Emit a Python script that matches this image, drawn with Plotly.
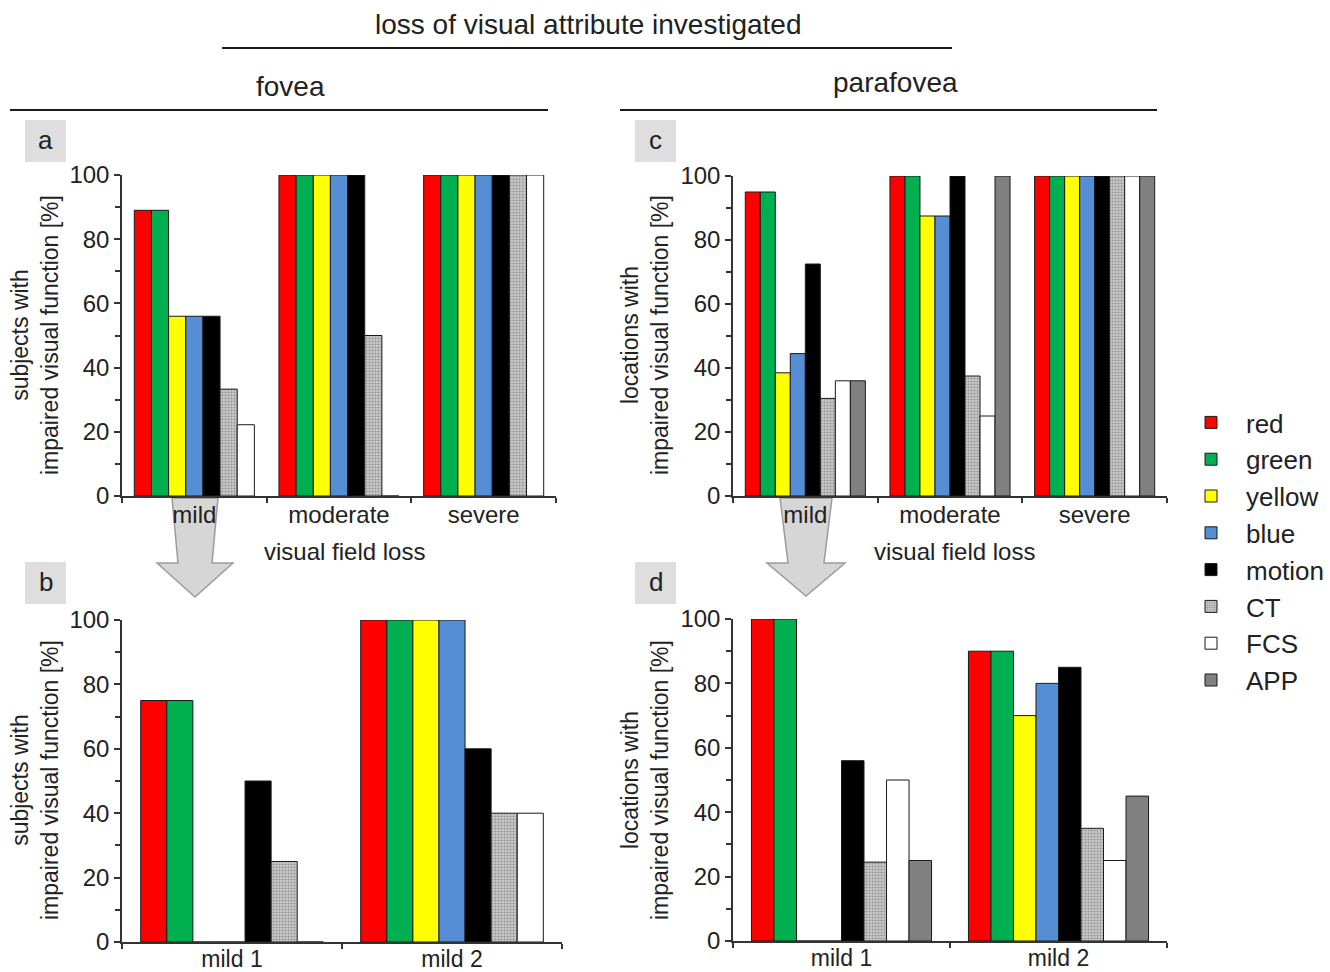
import plotly.graph_objects as go

# ---------------------------------------------------------------- data
SERIES = ["red", "green", "yellow", "blue", "motion", "CT", "FCS", "APP"]

SEVERITY = ["mild", "moderate", "severe"]
MILD_SPLIT = ["mild 1", "mild 2"]

# (a) fovea, subjects with impaired function per severity class
fovea_severity = {
    "red":    [89, 100, 100],
    "green":  [89, 100, 100],
    "yellow": [56, 100, 100],
    "blue":   [56, 100, 100],
    "motion": [56, 100, 100],
    "CT":     [33.3, 50, 100],
    "FCS":    [22.2, 0, 100],
}

# (b) fovea, mild class split in two
fovea_mild = {
    "red":    [75, 100],
    "green":  [75, 100],
    "yellow": [0, 100],
    "blue":   [0, 100],
    "motion": [50, 60],
    "CT":     [25, 40],
    "FCS":    [0, 40],
}

# (c) parafovea, locations with impaired function per severity class
parafovea_severity = {
    "red":    [95, 100, 100],
    "green":  [95, 100, 100],
    "yellow": [38.5, 87.5, 100],
    "blue":   [44.5, 87.5, 100],
    "motion": [72.5, 100, 100],
    "CT":     [30.5, 37.5, 100],
    "FCS":    [36, 25, 100],
    "APP":    [36, 100, 100],
}

# (d) parafovea, mild class split in two
parafovea_mild = {
    "red":    [100, 90],
    "green":  [100, 90],
    "yellow": [0, 70],
    "blue":   [0, 80],
    "motion": [56, 85],
    "CT":     [24.5, 35],
    "FCS":    [50, 25],
    "APP":    [25, 45],
}

# ---------------------------------------------------------------- style
FILL = {
    "red": "#ff0000",
    "green": "#00b050",
    "yellow": "#ffff00",
    "blue": "#558ed5",
    "motion": "#000000",
    "CT": "#c0c0c0",
    "FCS": "#ffffff",
    "APP": "#808080",
}
FONT = "Liberation Sans, Arial, sans-serif"
INK = "#222222"
AXIS = "#333333"

W, H = 1330, 972


def px(x):
    return x / W


def py(y):
    return 1 - y / H


fig = go.Figure()


def add_panel(values, cats, xa, ya, legend):
    for name in SERIES:
        if name not in values:
            continue
        marker = dict(color=FILL[name], line=dict(color="#1a1a1a", width=1))
        if name == "CT":
            # speckled grey texture
            marker["pattern"] = dict(shape=".", fgcolor="#5e5e5e", bgcolor="#c9c9c9",
                                     size=3, solidity=0.4)
        fig.add_trace(go.Bar(
            x=cats, y=values[name], name=name, marker=marker,
            xaxis=xa, yaxis=ya, showlegend=legend,
        ))


add_panel(fovea_severity, SEVERITY, "x", "y", False)
add_panel(parafovea_severity, SEVERITY, "x2", "y2", True)
add_panel(fovea_mild, MILD_SPLIT, "x3", "y3", False)
add_panel(parafovea_mild, MILD_SPLIT, "x4", "y4", False)


def xaxis_cfg(x0, x1, anchor, cats, size):
    return dict(
        domain=[px(x0), px(x1)], anchor=anchor, type="category",
        categoryorder="array", categoryarray=cats,
        tickson="boundaries", ticks="outside", ticklen=5, tickwidth=1.5,
        tickcolor=AXIS, showline=True, linecolor=AXIS, linewidth=1.5,
        showgrid=False, zeroline=False, automargin=False,
        ticklabelstandoff=-4,
        tickfont=dict(family=FONT, size=size, color=INK),
    )


def yaxis_cfg(y0, y1, anchor):
    return dict(
        domain=[py(y0), py(y1)], anchor=anchor, range=[0, 100],
        tickmode="linear", tick0=0, dtick=20,
        ticks="outside", ticklen=6, tickwidth=1.5, tickcolor=AXIS,
        minor=dict(dtick=10, ticks="outside", ticklen=5, tickwidth=1.5, tickcolor=AXIS),
        showline=True, linecolor=AXIS, linewidth=1.5,
        showgrid=False, zeroline=False, automargin=False,
        tickfont=dict(family=FONT, size=24, color=INK),
    )


shapes = []
annotations = []


def line(x0, y0, x1, y1, w=2):
    shapes.append(dict(type="line", xref="paper", yref="paper",
                       x0=px(x0), y0=py(y0), x1=px(x1), y1=py(y1),
                       line=dict(color="#1a1a1a", width=w)))


def text(x, y, s, size=20, angle=0):
    annotations.append(dict(xref="paper", yref="paper", x=px(x), y=py(y),
                            xanchor="center", yanchor="middle", text=s,
                            showarrow=False, textangle=angle,
                            font=dict(family=FONT, size=size, color=INK)))


def tag(x0, y0, x1, y1, s):
    shapes.append(dict(type="rect", xref="paper", yref="paper",
                       x0=px(x0), y0=py(y1), x1=px(x1), y1=py(y0),
                       fillcolor="#dedede", line=dict(width=0), layer="below"))
    text((x0 + x1) / 2, (y0 + y1) / 2 - 1, s, size=26)


def down_arrow(cx, top, neck, tip, top_half, neck_half, head_half):
    pts = [(cx - top_half, top), (cx + top_half, top), (cx + neck_half, neck),
           (cx + head_half, neck), (cx, tip), (cx - head_half, neck),
           (cx - neck_half, neck)]
    path = "M " + " L ".join(f"{px(x)},{py(y)}" for x, y in pts) + " Z"
    shapes.append(dict(type="path", xref="paper", yref="paper", path=path,
                       fillcolor="#d6d6d6", line=dict(color="#9c9c9c", width=1.5),
                       layer="below"))


# headings
text(588, 25, "loss of visual attribute investigated", size=28)
line(222, 48, 952, 48)
text(290, 87, "fovea", size=28)
line(10, 110, 548, 110)
text(895, 83, "parafovea", size=28)
line(620, 110, 1157, 110)

# panel tags
tag(25, 120, 66, 162, "a")
tag(635, 120, 676, 162, "c")
tag(25, 562, 66, 604, "b")
tag(635, 562, 676, 604, "d")

# y-axis titles
text(35, 335, "subjects with<br>impaired visual function [%]", size=23, angle=-90)
text(35, 780, "subjects with<br>impaired visual function [%]", size=23, angle=-90)
text(645, 335, "locations with<br>impaired visual function [%]", size=23, angle=-90)
text(645, 780, "locations with<br>impaired visual function [%]", size=23, angle=-90)

# x-axis titles
text(344, 551, "visual field loss", size=24)
text(954, 551, "visual field loss", size=24)

# arrows from the mild class to its split panels
down_arrow(195, 498, 563, 597, 23, 17, 38)
down_arrow(806, 498, 563, 596, 26, 18, 39)

fig.update_layout(
    width=W, height=H,
    margin=dict(l=0, r=0, t=0, b=0, autoexpand=False),
    paper_bgcolor="white", plot_bgcolor="rgba(0,0,0,0)",
    barmode="group", bargap=0.17, bargroupgap=0,
    font=dict(family=FONT, color=INK),
    xaxis=xaxis_cfg(122, 556, "y", SEVERITY, 24),
    yaxis=yaxis_cfg(496, 175, "x"),
    xaxis2=xaxis_cfg(733, 1167, "y2", SEVERITY, 24),
    yaxis2=yaxis_cfg(496, 176, "x2"),
    xaxis3=xaxis_cfg(122, 562, "y3", MILD_SPLIT, 23),
    yaxis3=yaxis_cfg(942, 620, "x3"),
    xaxis4=xaxis_cfg(733, 1167, "y4", MILD_SPLIT, 23),
    yaxis4=yaxis_cfg(941, 619, "x4"),
    legend=dict(
        x=px(1176), y=py(399), xanchor="left", yanchor="top",
        font=dict(family=FONT, size=26, color=INK),
        traceorder="normal", bgcolor="rgba(0,0,0,0)",
        itemwidth=60, tracegroupgap=0,
    ),
    shapes=shapes,
    annotations=annotations,
)

fig.write_html("out.html")
